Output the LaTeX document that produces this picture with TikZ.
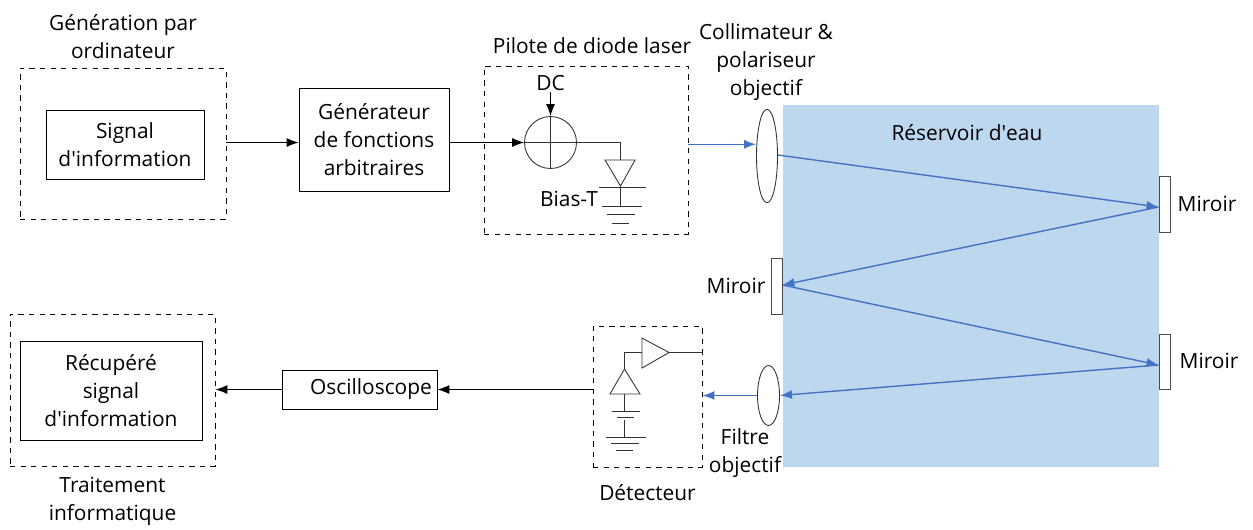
\documentclass[tikz,border=0pt]{standalone}
\usepackage{fontspec}
\setmainfont{Open Sans}
\usetikzlibrary{shapes.geometric,arrows.meta}
\definecolor{beam}{HTML}{4472C4}
\definecolor{water}{HTML}{BDD7EE}
\begin{document}
\begin{tikzpicture}[x=0.02cm,y=-0.02cm,line width=0.5pt,font=\fontsize{11.9pt}{15.8pt}\selectfont,
>={Latex[length=2.4mm,width=1.8mm]},
data/.style={
rectangle,
draw,
inner sep=0pt,
align=center
},
group/.style={
rectangle,
draw,
dashed,
inner sep=0pt
},
label/.style={
align=center,
inner sep=0pt
},
mirror/.style={
rectangle,
draw=black!70,
fill=white,
inner sep=0pt,
minimum width=0.22cm,
minimum height=1.11cm
},
lens/.style={
ellipse,
draw=black!80,
fill=white,
inner sep=0pt
},
light/.style={
beam,
line width=0.8pt,
->
},
]
\useasboundingbox (0,0) rectangle (1253,529);

\node (tank) [rectangle,fill=water,inner sep=0pt,minimum width=7.52cm,minimum height=7.24cm] at (971,286) {};
\node (tanklabel) [label] at (967,133) {Réservoir d\textquotesingle eau};

\node (gen) [group,minimum width=4.12cm,minimum height=3.02cm] at (123,143.5) {};
\node (signal) [data,minimum width=3.16cm,minimum height=1.38cm] at (125,144.5) {Signal\\d\textquotesingle information};
\node (genlabel) [label,above of=gen,node distance=2.14cm] {Génération par\\ordinateur};
\node (arb) [data,minimum width=3cm,minimum height=2.06cm] at (374,139.5) {Générateur\\de fonctions\\arbitraires};

\node (driver) [group,minimum width=4.08cm,minimum height=3.36cm] at (586,150) {};
\node (driverlabel) [label] at (592,46) {Pilote de diode laser};
\node (sum) [circle,draw=black!80,inner sep=0pt,minimum size=1.04cm] at (550.5,142.5) {};
\node (dc) [label,above of=sum,node distance=1.18cm] {DC};
\node (bias) [label] at (569,199) {Bias-T};
\coordinate (diodetop) at (620.5,160);
\coordinate (diodetip) at (620.5,186);
\coordinate (caplow) at (620.5,206);

\node (collim) [lens,minimum width=0.42cm,minimum height=1.87cm] at (767,156) {};
\node (collimlabel) [label] at (766,62) {Collimateur \&\\polariseur\\objectif};

\node (mirrorA) [mirror] at (1164.5,204.5) {};
\node (mirrorB) [mirror] at (776.5,286.5) {};
\node (mirrorC) [mirror] at (1164.5,362) {};
\node (mirrorAlabel) [label] at (1207,204) {Miroir};
\node (mirrorBlabel) [label] at (736,286) {Miroir};
\node (mirrorClabel) [label] at (1209,361) {Miroir};

\node (filter) [lens,minimum width=0.44cm,minimum height=1.2cm] at (768.5,395.5) {};
\node (filterlabel) [label] at (745,453) {Filtre\\objectif};

\node (det) [group,minimum width=2.18cm,minimum height=2.82cm] at (647.5,396.5) {};
\node (detlabel) [label,below of=det,node distance=1.93cm] {Détecteur};
\coordinate (amptip) at (669,352.5);
\coordinate (ampin) at (642,352.5);
\coordinate (pdtip) at (624.5,369);
\coordinate (pdbase) at (624.5,394);
\coordinate (capbase) at (624.5,411);
\coordinate (gndtop) at (624.5,420);
\coordinate (gnd) at (624.5,437);

\node (osc) [data,minimum width=3.1cm,minimum height=0.78cm] at (359.5,389.5) {\hspace{0.46cm}Oscilloscope};
\node (rec) [group,minimum width=4.1cm,minimum height=3.04cm] at (112.5,390) {};
\node (recsignal) [data,minimum width=3.64cm,minimum height=1.98cm] at (111,390.5) {Récupéré\\signal\\d\textquotesingle information};
\node (reclabel) [label,below of=rec,node distance=2.22cm] {Traitement\\informatique};

% electrical links
\draw[->] (gen.east |- sum) -- (arb.west |- sum);
\draw[->] (arb.east |- sum) -- (sum.west);
\draw[->] (dc.south) -- (sum.north);
\draw[black!80] (sum.north) -- (sum.south);
\draw[black!80] (sum.west) -- (sum.east);
\draw[black!80] (sum.east) -| (diodetop);
\draw[->] (det.west |- osc) -- (osc.east);
\draw[->] (osc.west) -- (rec.east |- osc);

% laser diode with bias
\draw[black!80] (605,160) -- (635,160) -- (diodetip) -- cycle;
\draw[black!80] (diodetip) -- (caplow);
\draw[black!80] (599,187) -- (646,187);
\draw[black!80] (602,206) -- (642,206);
\draw[black!80] (607,214) -- (635,214);
\draw[black!80] (612,223) -- (629,223);

% detector
\draw[black!80] (ampin |- 0,338) -- (ampin |- 0,368) -- (amptip) -- cycle;
\draw[black!80] (amptip) -- (det.east |- amptip);
\draw[black!80] (pdtip) |- (ampin);
\draw[black!80] (pdtip) -- (610,394) -- (640,394) -- cycle;
\draw[black!80] (pdbase) -- (capbase);
\draw[black!80] (612,411) -- (640,411);
\draw[black!80] (617,417) -- (634,417);
\draw[black!80] (gndtop) -- (gnd);
\draw[black!80] (606,437) -- (646,437);
\draw[black!80] (611,443) -- (639,443);
\draw[black!80] (616,450) -- (633,450);

% optical path
\coordinate (hitA) at (mirrorA.west |- 0,207);
\coordinate (hitB) at (mirrorB.east |- 0,285);
\coordinate (hitC) at (mirrorC.west |- 0,365);
\draw[light] (driver.east |- 0,144.3) -- (collim.west |- 0,144.3);
\draw[light] (collim.east |- 0,155) -- (hitA);
\draw[light] (hitA) -- (hitB);
\draw[light] (hitB) -- (hitC);
\draw[light] (hitC) -- (filter.east);
\draw[light] (filter.west) -- (det.east |- filter);
\end{tikzpicture}
\end{document}
